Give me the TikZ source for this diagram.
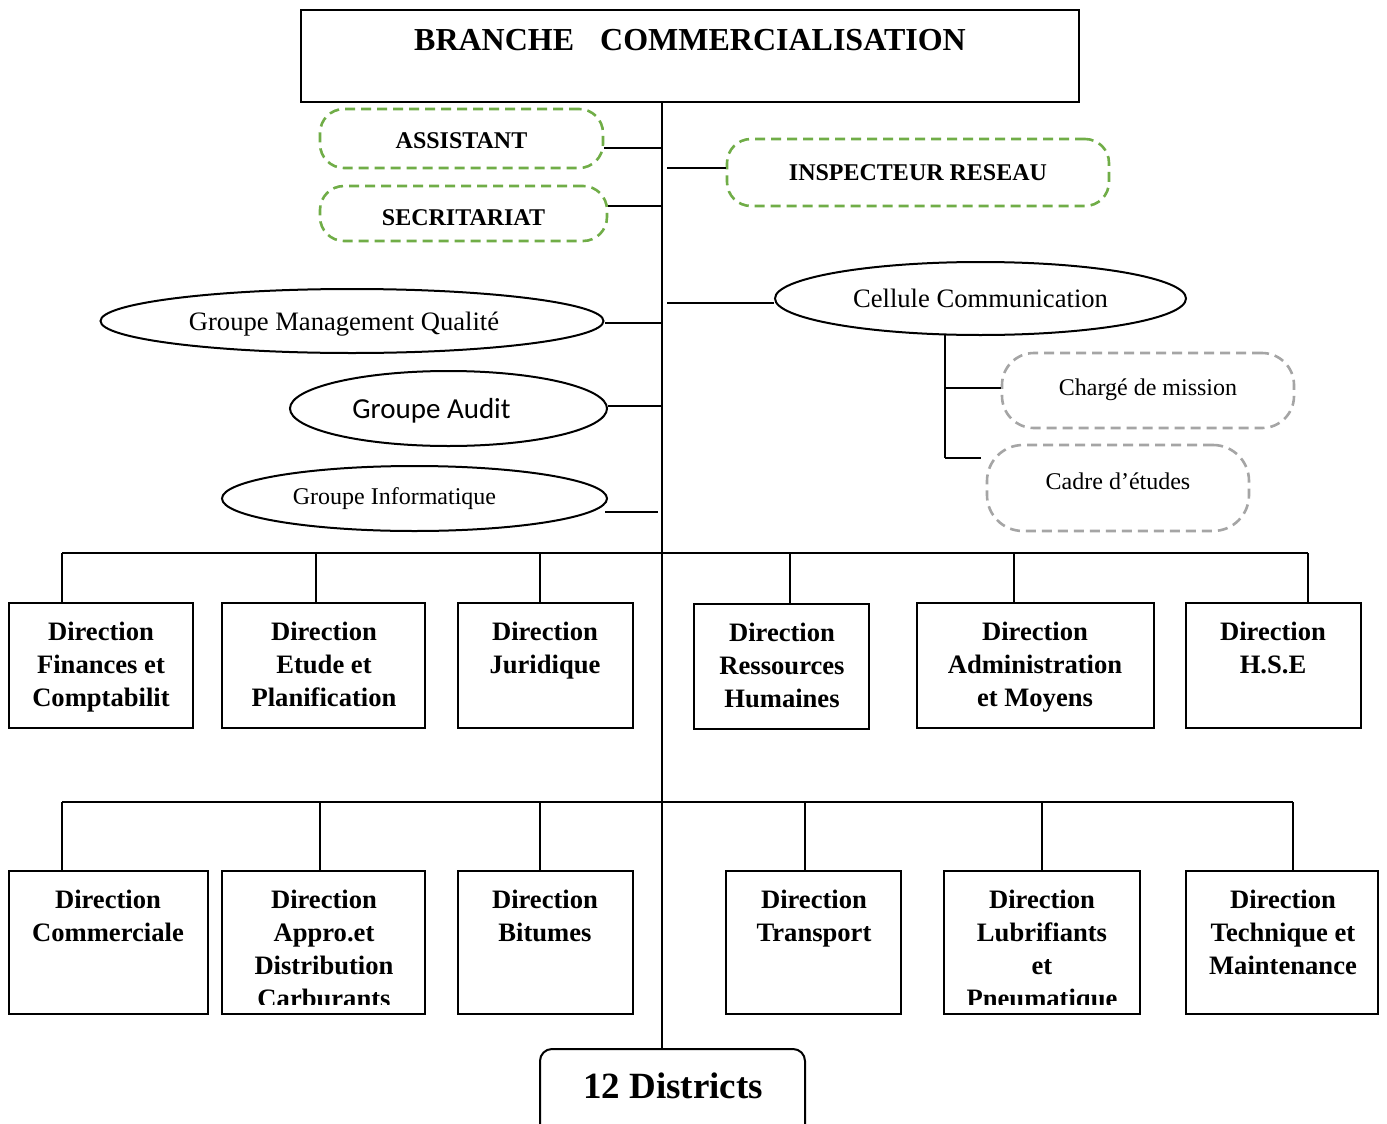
\documentclass[tikz,border=0pt]{standalone}
\usepackage{fontspec}
\setmainfont{Liberation Serif}
\newfontfamily\calib{Carlito}
\usetikzlibrary{shapes.geometric}
\definecolor{ogreen}{RGB}{112,173,71}
\definecolor{dgray}{RGB}{165,165,165}
\begin{document}
\begin{tikzpicture}[x=0.5pt,y=-0.5pt,
  ln/.style={line width=1pt},
  dirbox/.style={draw, line width=1pt, inner sep=0pt, minimum height=62.5pt},
  dirboxb/.style={draw, line width=1pt, inner sep=0pt, minimum height=71.5pt},
  dirtext/.style={anchor=north, align=center, inner sep=0pt, font=\fontsize{13.3}{16.5}\selectfont\bfseries},
  greenbox/.style={draw=ogreen, line width=1.3pt, dash pattern=on 5pt off 3pt, rounded corners=12pt, inner sep=0pt, font=\fontsize{12}{14}\selectfont\bfseries},
  graybox/.style={draw=dgray, line width=1.3pt, dash pattern=on 5pt off 3pt, rounded corners=16pt, inner sep=0pt, font=\fontsize{12}{14}\selectfont},
  ell/.style={draw, ellipse, line width=1pt, inner sep=0pt},
]
\fill[white] (0,0) rectangle (1387,1124);
\useasboundingbox (0,0) rectangle (1387,1124);

% top box
\node[draw, line width=1pt, minimum width=389pt, minimum height=46pt, inner sep=0pt] (top) at (690,56) {};
\node[inner sep=0pt, font=\fontsize{16}{18}\selectfont\bfseries] (toptext) at (690,40) {BRANCHE\hspace{13pt}COMMERCIALISATION};

% green dashed
\node[greenbox, minimum width=141.5pt, minimum height=29.5pt] (asst) at (461.5,138.5) {\raisebox{-1pt}[\height][\depth]{ASSISTANT}};
\node[greenbox, minimum width=143.5pt, minimum height=27.5pt] (sec) at (463.5,213.5) {\raisebox{-2pt}[\height][\depth]{SECRITARIAT}};
\node[greenbox, minimum width=191pt, minimum height=33.5pt] (insp) at (918,172.5) {INSPECTEUR RESEAU};

% ellipses
\node[ell, minimum width=251.5pt, minimum height=32pt, font=\fontsize{13.3}{15}\selectfont] (gmq) at (352,321) {\raisebox{-1.5pt}[\height][\depth]{Groupe Management Qualité}\hspace*{8pt}};
\node[ell, minimum width=158.5pt, minimum height=37.5pt, font=\calib\fontsize{14.5}{16}\selectfont] (audit) at (448.5,408.5) {\raisebox{-1pt}[\height][\depth]{Groupe Audit}\hspace*{17pt}};
\node[ell, minimum width=192.5pt, minimum height=32.5pt, font=\fontsize{12}{14}\selectfont] (inf) at (414.5,498.5) {Groupe Informatique\hspace*{20pt}};
\node[ell, minimum width=205.5pt, minimum height=36.5pt, font=\fontsize{13.3}{15}\selectfont] (cell) at (980.5,298.5) {Cellule Communication};

% gray dashed
\node[graybox, minimum width=146pt, minimum height=37.5pt] (charge) at (1148,390.5) {\raisebox{3pt}{Chargé de mission}};
\node[graybox, rounded corners=18pt, minimum width=131pt, minimum height=43pt] (cadre) at (1118,488) {\raisebox{7pt}{Cadre d’études}};

% row 1 boxes
\node[dirbox, minimum width=92pt]   (d1) at (101,665.5) {};
\node[dirbox, minimum width=101.5pt] (d2) at (323.5,665.5) {};
\node[dirbox, minimum width=87.5pt] (d3) at (545.5,665.5) {};
\node[dirbox, minimum width=87.5pt] (d4) at (781.5,666.5) {};
\node[dirbox, minimum width=118.5pt] (d5) at (1035.5,665.5) {};
\node[dirbox, minimum width=87.5pt] (d6) at (1273.5,665.5) {};
\node[dirtext] (t1) at (101,622) {Direction\\Finances et\\Comptabilit};
\node[dirtext] (t2) at (324,622) {Direction\\Etude et\\Planification};
\node[dirtext] (t3) at (545,622) {Direction\\Juridique};
\node[dirtext] (t4) at (782,623) {Direction\\Ressources\\Humaines};
\node[dirtext] (t5) at (1035,622) {Direction\\Administration\\et Moyens};
\node[dirtext] (t6) at (1273,622) {Direction\\H.S.E};

% row 2 boxes
\node[dirboxb, minimum width=99.5pt] (e1) at (108.5,942.5) {};
\node[dirboxb, minimum width=101.5pt] (e2) at (323.5,942.5) {};
\node[dirboxb, minimum width=87.5pt] (e3) at (545.5,942.5) {};
\node[dirboxb, minimum width=87.5pt] (e4) at (813.5,942.5) {};
\node[dirboxb, minimum width=98pt] (e5) at (1042,942.5) {};
\node[dirboxb, minimum width=96pt] (e6) at (1282,942.5) {};
\begin{scope}
\clip (0,860) rectangle (1387,1004);
\node[dirtext] (u1) at (108,890) {Direction\\Commerciale};
\node[dirtext] (u2) at (324,890) {Direction\\Appro.et\\Distribution\\Carburants};
\node[dirtext] (u3) at (545,890) {Direction\\Bitumes};
\node[dirtext] (u4) at (814,890) {Direction\\Transport};
\node[dirtext] (u5) at (1042,890) {Direction\\Lubrifiants\\et\\Pneumatique};
\node[dirtext] (u6) at (1283,890) {Direction\\Technique et\\Maintenance};
\end{scope}

% districts
\node[draw, line width=1pt, rounded corners=6pt, minimum width=132.5pt, minimum height=50pt, inner sep=0pt] (dist) at (672.5,1099) {};
\node[inner sep=0pt, font=\fontsize{18.5}{20}\selectfont\bfseries] (disttext) at (673,1086) {12 Districts};

% spine
\coordinate (sp) at (662,0);
\draw[ln] (sp |- top.south) -- (sp |- dist.north);

% side connectors
\draw[ln] (asst.east |- 0,148) -- (sp |- 0,148);
\draw[ln] (sec.east |- 0,206) -- (sp |- 0,206);
\coordinate (ia) at (667,168);
\draw[ln] (ia) -- (insp.west |- ia);
\coordinate (ca) at (667,303);
\draw[ln] (ca) -- (cell.west |- ca);
\draw[ln] (gmq.east |- 0,323) -- (sp |- 0,323);
\draw[ln] (audit.east |- 0,406) -- (sp |- 0,406);
\coordinate (ie) at (658,512);
\draw[ln] (inf.east |- ie) ++(-3,0) -- (ie);

% cellule sub
\coordinate (cs) at (945,0);
\draw[ln] (cs |- 0,335) -- (cs |- 0,458);
\draw[ln] (cs |- 0,388) -- (charge.west |- 0,388);
\draw[ln, shorten >=2.5pt] (cs |- 0,458) -- (cadre.west |- 0,458);

% buses
\draw[ln] (62,553) -- (1308,553);
\foreach \n/\x in {d1/62,d2/316,d3/540,d4/790,d5/1014,d6/1308}
  \draw[ln] (\x,553) -- (\n.north -| \x,0);
\draw[ln] (62,802) -- (1293,802);
\foreach \n/\x in {e1/62,e2/320,e3/540,e4/805,e5/1042,e6/1293}
  \draw[ln] (\x,802) -- (\n.north -| \x,0);
\end{tikzpicture}
\end{document}
